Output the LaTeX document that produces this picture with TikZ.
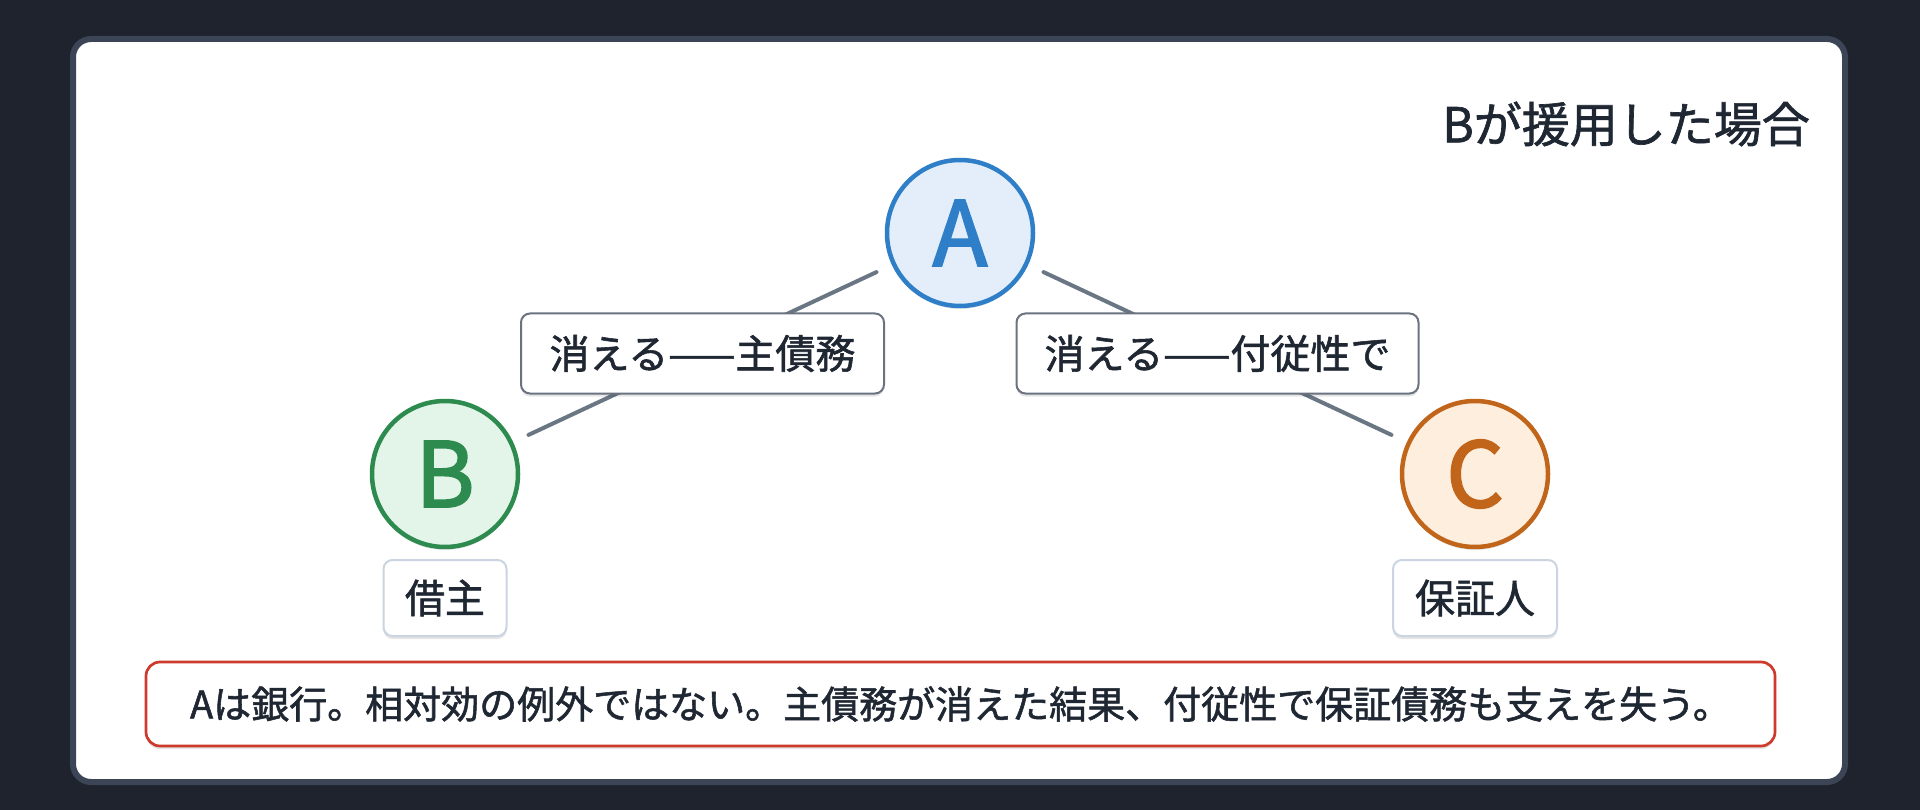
\documentclass[tikz,border=0pt]{standalone}
\usepackage{fontspec}
\setmainfont{Noto Sans CJK JP}[FakeBold=1.4]
\newfontfamily\heavyletter{Noto Sans CJK JP}[FakeBold=2.2]
\usetikzlibrary{shadows}
\definecolor{bgdark}{HTML}{1E232D}
\definecolor{cardedge}{HTML}{3B4556}
\definecolor{ink}{HTML}{1F2733}
\definecolor{linkgray}{HTML}{6B7684}
\definecolor{boxgray}{HTML}{6B7280}
\definecolor{lightedge}{HTML}{CBD5E1}
\definecolor{noteRed}{HTML}{CC3B2B}
\definecolor{aStroke}{HTML}{2F7FC8}
\definecolor{aFill}{HTML}{E3EEFA}
\definecolor{bStroke}{HTML}{2E8B4F}
\definecolor{bFill}{HTML}{E3F5E8}
\definecolor{cStroke}{HTML}{C0651A}
\definecolor{cFill}{HTML}{FDEEDD}
\begin{document}
\begin{tikzpicture}[x=1pt,y=-1pt,
  softshadow/.style={drop shadow={shadow xshift=0pt, shadow yshift=-3pt, opacity=0.10, fill=black}},
  actor/.style={circle, minimum size=146pt, inner sep=0pt, line width=4.5pt, softshadow,
    font=\heavyletter\fontsize{90}{90}\selectfont},
  link/.style={draw=linkgray, line width=4pt, line cap=round, shorten >=17pt, shorten <=17pt},
  edgelabel/.style={draw=boxgray, line width=2pt, fill=white, rounded corners=9pt, softshadow,
    inner xsep=0pt, inner ysep=0pt, minimum height=80pt, text=ink,
    font=\fontsize{40}{40}\selectfont},
  rolebox/.style={draw=lightedge, line width=2pt, fill=white, rounded corners=9pt, softshadow,
    inner xsep=0pt, inner ysep=0pt, minimum height=76pt, text=ink,
    font=\fontsize{40}{40}\selectfont},
  notebox/.style={draw=noteRed, line width=2.7pt, fill=white, rounded corners=14pt, softshadow,
    minimum width=1629pt, minimum height=84pt, inner sep=0pt, text=ink,
    font=\fontsize{38}{38}\selectfont},
  titletext/.style={inner sep=0pt, text=ink, font=\fontsize{48}{48}\selectfont}]
\useasboundingbox (0,0) rectangle (1920,810);
\fill[bgdark] (0,0) rectangle (1920,810);
\draw[cardedge, line width=6pt, fill=white, rounded corners=18pt] (73,39) rectangle (1845,782);

\node[titletext, anchor=east] (title) at (1810,124) {Bが援用した場合};

\node[actor, draw=aStroke, fill=aFill, text=aStroke] (A) at (960,233) {A};
\node[actor, draw=bStroke, fill=bFill, text=bStroke] (B) at (445,474) {B};
\node[actor, draw=cStroke, fill=cFill, text=cStroke] (C) at (1475,474) {C};

\draw[link] (A) -- (B);
\draw[link] (A) -- (C);
\path (A) -- node[edgelabel, minimum width=363pt] (lab1) {消える——主債務} (B);
\path (A) -- node[edgelabel, minimum width=402pt] (lab2) {消える——付従性で} (C);

\node[rolebox, minimum width=123pt] (rb) at (445,598) {借主};
\node[rolebox, minimum width=164pt] (rc) at (1475,598) {保証人};

\node[notebox] (note) at (960.5,704) {Aは銀行。相対効の例外ではない。主債務が消えた結果、付従性で保証債務も支えを失う。};
\end{tikzpicture}
\end{document}
